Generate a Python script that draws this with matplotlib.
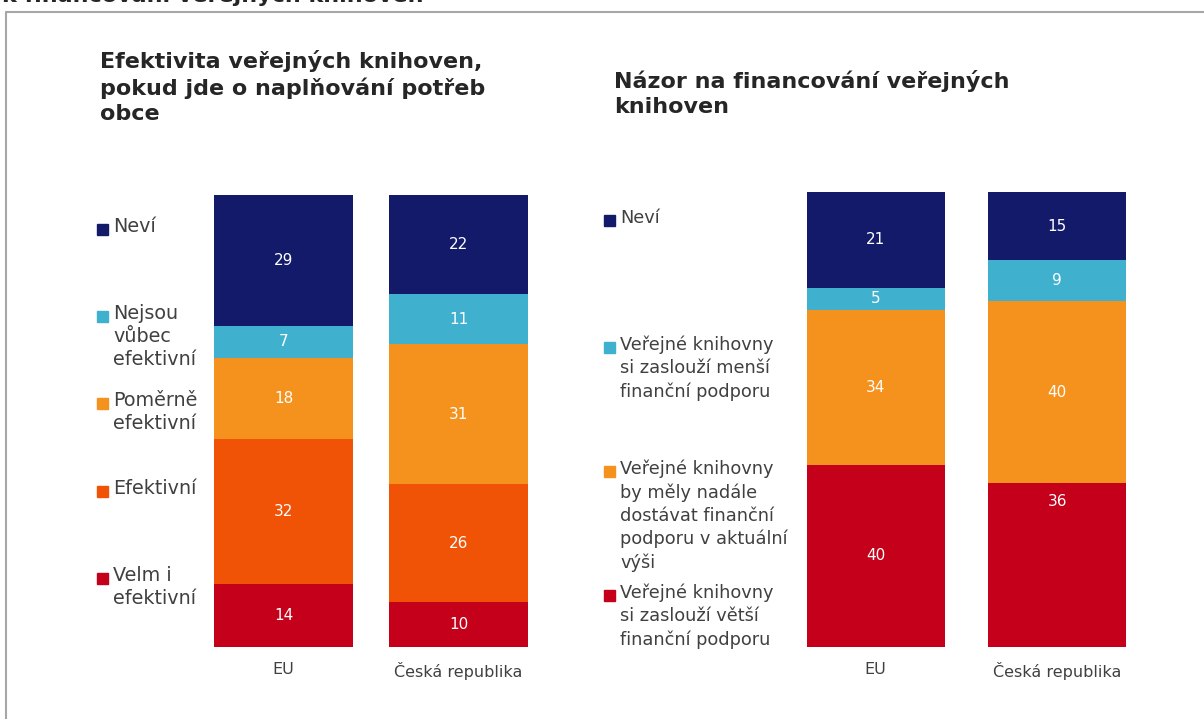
import matplotlib.pyplot as plt
from matplotlib.patches import Rectangle

# left chart: stacked from bottom to top
left_cats = ["EU", "Česká republika"]
left_labels = ["Velm i\nefektivní", "Efektivní", "Poměrně\nefektivní",
               "Nejsou\nvůbec\nefektivní", "Neví"]
left_vals = {
    "EU": [14, 32, 18, 7, 29],
    "Česká republika": [10, 26, 31, 11, 22],
}
left_colors = ["#c4001a", "#f05206", "#f5921e", "#3fb1ce", "#131a69"]

# right chart
right_cats = ["EU", "Česká republika"]
right_labels = ["Veřejné knihovny\nsi zaslouží větší\nfinanční podporu",
                "Veřejné knihovny\nby měly nadále\ndostávat finanční\npodporu v aktuální\nvýši",
                "Veřejné knihovny\nsi zaslouží menší\nfinanční podporu",
                "Neví"]
right_vals = {
    "EU": [40, 34, 5, 21],
    "Česká republika": [36, 40, 9, 15],
}
right_colors = ["#c4001a", "#f5921e", "#3fb1ce", "#131a69"]

W, H = 1204, 719
txt = "#404040"
fig = plt.figure(figsize=(W / 100, H / 100), dpi=100)


def px_axes(x0, y0, x1, y1):
    return fig.add_axes([x0 / W, 1 - y1 / H, (x1 - x0) / W, (y1 - y0) / H])


def stacked(ax, cats, vals, colors, width, top_labels=()):
    for i, c in enumerate(cats):
        bottom = 0
        for j, (v, col) in enumerate(zip(vals[c], colors)):
            ax.bar(i, v, width, bottom=bottom, color=col)
            if (i, j) in top_labels:
                # label sits near the top of the segment
                ax.text(i, bottom + v - 4, str(v), ha="center", va="center",
                        color="white", fontsize=11)
            else:
                ax.text(i, bottom + v / 2, str(v), ha="center", va="center",
                        color="white", fontsize=11)
            bottom += v
    ax.set_xlim(-0.5, len(cats) - 0.5)
    ax.set_ylim(0, 100)
    ax.set_xticks(range(len(cats)))
    ax.set_xticklabels(cats, fontsize=11.5, color=txt)
    ax.tick_params(length=0, pad=11)
    ax.set_yticks([])
    for s in ax.spines.values():
        s.set_visible(False)
    ax.patch.set_alpha(0)


ax1 = px_axes(196, 195, 546, 647)
stacked(ax1, left_cats, left_vals, left_colors, 0.79)

ax2 = px_axes(785, 192, 1148, 647)
stacked(ax2, right_cats, right_vals, right_colors, 0.76, top_labels={(1, 0)})

# overlay in pixel coordinates for titles, legends and frame
ov = fig.add_axes([0, 0, 1, 1])
ov.set_xlim(0, W)
ov.set_ylim(H, 0)
ov.axis("off")
ov.patch.set_alpha(0)

ov.plot([6, 6, W], [H, 12, 12], color="#a6a6a6", lw=1.5)
ov.text(2, 2, "k financování veřejných knihoven", fontsize=16,
        fontweight="bold", color="#262626", va="baseline")

ov.text(100, 50, "Efektivita veřejných knihoven,\npokud jde o naplňování potřeb\nobce",
        fontsize=16, fontweight="bold", color="#262626", va="top", linespacing=1.3)
ov.text(614, 70, "Názor na financování veřejných\nknihoven",
        fontsize=16, fontweight="bold", color="#262626", va="top", linespacing=1.3)

left_ys = [578, 491, 403, 316, 229]
for lab, col, y in zip(left_labels, left_colors, left_ys):
    ov.add_patch(Rectangle((97, y - 5.5), 11, 11, color=col))
    ov.text(113, y - 12, lab, fontsize=13.8, color=txt, va="top", linespacing=1.27)

right_ys = [595, 471, 347, 220]
for lab, col, y in zip(right_labels, right_colors, right_ys):
    ov.add_patch(Rectangle((604, y - 5.5), 11, 11, color=col))
    ov.text(620, y - 11, lab, fontsize=12.8, color=txt, va="top", linespacing=1.34)

fig.savefig("out.png", dpi=100)
